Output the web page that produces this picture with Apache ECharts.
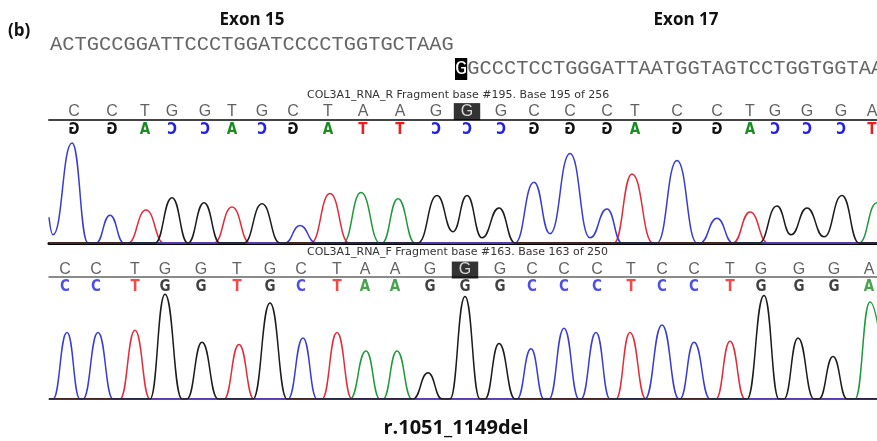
<!DOCTYPE html>
<html>
<head>
<meta charset="utf-8">
<script src="https://cdn.jsdelivr.net/npm/echarts@6/dist/echarts.min.js"></script>
<style>
  html, body { margin: 0; padding: 0; background: #fff; }
  #chart { width: 877px; height: 441px; }
</style>
</head>
<body>
<div id="chart"></div>
<script>
  // reference sequence above the traces
  const exon15Seq = 'ACTGCCGGATTCCCTGGATCCCCTGGTGCTAAG';
  const exon17Seq = 'GGCCCTCCTGGGATTAATGGTAGTCCTGGTGGTAA';

  // base calls, same read for both fragments
  const calls = 'CCTGGTGCTAAGGGCCCTCCTGGGA'.split('');
  const hlIndex = 12;
  // call positions (scan units)
  const topPos = [25, 63, 96, 123, 156, 183, 213, 244, 279, 314, 351, 387, 418, 452, 485, 521, 558, 586, 628, 668, 701, 726, 758, 792, 823];
  const botPos = [16, 47, 86, 116, 152, 188, 221, 252, 288, 316, 346, 381, 416, 451, 483, 515, 548, 582, 613, 645, 681, 712, 750, 785, 820];

  // COL3A1_RNA_R trace, [scan, signal]
  const topBlue = [[0, 25], [4, 8], [23, 97], [39, 0], [47, 0], [61, 27], [75, 0], [236, 0], [251, 17], [267, 0], [466, 0], [485, 59], [501, 9], [521, 87], [541, 5], [558, 33], [573, 0], [608, 0], [628, 80], [648, 0], [651, 0], [668, 24], [684, 0], [828, 0]];
  const topRed = [[0, 0], [79, 0], [97, 32], [115, 0], [165, 0], [183, 35], [201, 0], [262, 0], [281, 48], [300, 0], [565, 0], [583, 67], [604, 0], [684, 0], [701, 30], [719, 0], [828, 0]];
  const topBlack = [[0, 0], [106, 0], [123, 44], [139, 0], [155, 39], [171, 0], [195, 0], [213, 38], [231, 0], [369, 0], [388, 46], [404, 11], [418, 46], [433, 5], [450, 34], [466, 0], [710, 0], [728, 36], [742, 8], [758, 34], [775, 6], [793, 46], [810, 0], [828, 0]];
  const topGreen = [[0, 0], [294, 0], [312, 49], [331, 0], [333, 0], [349, 43], [366, 0], [810, 0], [828, 39], [838, 46], [852, 0]];

  // COL3A1_RNA_F trace, [scan, signal]
  const botBlue = [[0, 0], [4, 0], [18, 61], [31, 0], [34, 0], [49, 61], [64, 0], [239, 0], [254, 56], [268, 0], [468, 0], [482, 46], [495, 0], [500, 0], [515, 65], [530, 0], [532, 0], [547, 61], [561, 0], [596, 0], [613, 68], [630, 0], [631, 0], [645, 52], [661, 0], [828, 0]];
  const botRed = [[0, 0], [71, 0], [86, 63], [101, 0], [175, 0], [190, 50], [205, 0], [273, 0], [288, 61], [303, 0], [567, 0], [581, 61], [597, 0], [667, 0], [681, 53], [696, 0], [828, 0]];
  const botBlack = [[0, 0], [101, 0], [116, 96], [133, 0], [138, 0], [153, 52], [169, 0], [204, 0], [221, 88], [238, 0], [364, 0], [379, 24], [393, 0], [401, 0], [416, 94], [431, 0], [436, 0], [450, 51], [466, 0], [698, 0], [715, 95], [730, 0], [735, 0], [749, 56], [765, 0], [770, 0], [784, 39], [798, 0], [828, 0]];
  const botGreen = [[0, 0], [301, 0], [317, 44], [331, 0], [334, 0], [348, 44], [363, 0], [806, 0], [821, 89], [838, 0]];

  const baseColor = { A: '#1b8c22', C: '#2222e6', G: '#111111', T: '#f01c1c' };
  const traceColor = { A: '#1f9a3a', C: '#3b3bd6', G: '#1c1c1c', T: '#e52b3a' };
  const complement = { A: 'T', C: 'G', G: 'C', T: 'A' };

  const callFamily = '"Liberation Sans Narrow", "DejaVu Sans Condensed", "Liberation Sans", sans-serif';
  const callFont = 'bold 15px ' + callFamily;
  const grayFont = '"Liberation Sans", Arial, sans-serif';
  const seqFont = '20.4px "Liberation Mono", monospace';

  let chart = echarts.init(document.getElementById('chart'));

  function xAx(grid, lineColor, lineWidth) {
    return {
      type: 'value', gridIndex: grid, min: 0, max: 828,
      axisLine: { show: true, onZero: true, lineStyle: { color: lineColor, width: lineWidth } },
      axisTick: { show: false }, axisLabel: { show: false }, splitLine: { show: false }
    };
  }
  function yAx(grid, min, max) {
    return { type: 'value', gridIndex: grid, min: min, max: max, show: false };
  }
  function trace(data, base, grid) {
    return {
      type: 'line', xAxisIndex: grid, yAxisIndex: grid, data: data,
      smooth: 0.5, smoothMonotone: 'x', symbol: 'none',
      lineStyle: { color: traceColor[base], width: 1.5 }
    };
  }
  function grayLetters(pos, y, grid) {
    return {
      type: 'scatter', xAxisIndex: grid, yAxisIndex: grid, symbolSize: 0,
      data: pos.map(function (p, i) {
        let item = { value: [p, y], name: calls[i] };
        if (i === hlIndex) {
          item.label = { color: '#fff', backgroundColor: '#000', padding: [1, 7, 0, 7] };
        }
        return item;
      }),
      label: {
        show: true, position: 'inside', formatter: '{b}',
        color: '#3a3a3a', fontSize: 16, fontFamily: grayFont
      }
    };
  }

  chart.setOption({
    animation: false,
    grid: [
      { left: 49, right: 0, top: 100, height: 40 },
      { left: 49, right: 0, top: 140, height: 103 },
      { left: 49, right: 0, top: 260, height: 34 },
      { left: 49, right: 0, top: 290, height: 109 }
    ],
    xAxis: [xAx(0, '#444', 2), xAx(1, '#000', 3), xAx(2, '#666', 1.5), xAx(3, '#666', 1.5)],
    yAxis: [yAx(0, -1, 1), yAx(1, 0, 100), yAx(2, -1, 1), yAx(3, 0, 100)],
    graphic: [
      { type: 'text', x: 8, y: 31, style: { text: '(b)', font: 'bold 17px "Open Sans", sans-serif', fill: '#111', verticalAlign: 'middle' } },
      { type: 'text', x: 252, y: 20, style: { text: 'Exon 15', font: 'bold 17px "Open Sans", sans-serif', fill: '#111', align: 'center', verticalAlign: 'middle' } },
      { type: 'text', x: 686, y: 20, style: { text: 'Exon 17', font: 'bold 17px "Open Sans", sans-serif', fill: '#111', align: 'center', verticalAlign: 'middle' } },
      { type: 'text', x: 50, y: 45, style: { text: exon15Seq, font: seqFont, fill: '#666', verticalAlign: 'middle' } },
      {
        type: 'text', x: 455, y: 69,
        style: {
          text: '{hl|' + exon17Seq[0] + '}' + exon17Seq.slice(1),
          font: seqFont, fill: '#666', verticalAlign: 'middle',
          rich: { hl: { fill: '#fff', backgroundColor: '#000', font: seqFont, padding: [1, 0, 1, 0] } }
        }
      },
      { type: 'text', x: 307, y: 95, style: { text: 'COL3A1_RNA_R Fragment base #195. Base 195 of 256', font: '11px "DejaVu Sans", sans-serif', fill: '#333', verticalAlign: 'middle' } },
      { type: 'text', x: 307, y: 252, style: { text: 'COL3A1_RNA_F Fragment base #163. Base 163 of 250', font: '11px "DejaVu Sans", sans-serif', fill: '#333', verticalAlign: 'middle' } },
      { type: 'text', x: 456, y: 428, style: { text: 'r.1051_1149del', font: 'bold 20px "Open Sans", sans-serif', fill: '#111', align: 'center', verticalAlign: 'middle' } }
    ],
    series: [
      grayLetters(topPos, 0.42, 0),
      {
        // reverse read: complement calls drawn mirrored
        type: 'custom', xAxisIndex: 0, yAxisIndex: 0,
        data: topPos.map(function (p) { return [p, -0.5]; }),
        renderItem: function (params, api) {
          const pt = api.coord([api.value(0), api.value(1)]);
          const b = complement[calls[params.dataIndex]];
          return {
            type: 'text', x: pt[0], y: pt[1], scaleX: -1,
            style: { text: b, fill: baseColor[b], font: callFont, align: 'center', verticalAlign: 'middle' }
          };
        }
      },
      trace(topGreen, 'A', 1),
      trace(topRed, 'T', 1),
      trace(topBlue, 'C', 1),
      trace(topBlack, 'G', 1),
      grayLetters(botPos, 0.41, 2),
      {
        type: 'scatter', xAxisIndex: 2, yAxisIndex: 2, symbolSize: 0,
        data: botPos.map(function (p, i) {
          return { value: [p, -0.59], name: calls[i], label: { color: baseColor[calls[i]] } };
        }),
        label: { show: true, position: 'inside', formatter: '{b}', fontWeight: 'bold', fontSize: 15, fontFamily: callFamily }
      },
      trace(botGreen, 'A', 3),
      trace(botRed, 'T', 3),
      trace(botBlue, 'C', 3),
      trace(botBlack, 'G', 3)
    ]
  });
</script>
</body>
</html>
